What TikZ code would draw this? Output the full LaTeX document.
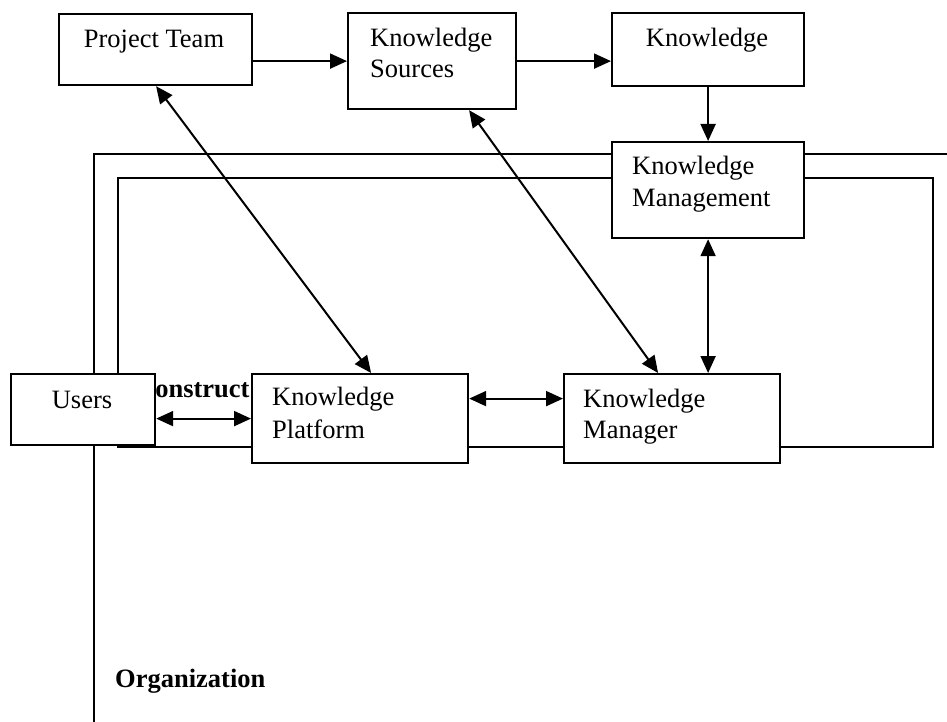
\documentclass[tikz,border=0pt]{standalone}
\usepackage{fontspec}
\setmainfont{Liberation Serif}
\usetikzlibrary{arrows.meta}
\begin{document}
\begin{tikzpicture}[x=1pt,y=-1pt,
  every node/.style={font=\fontsize{26.5}{30.5}\selectfont},
  box/.style={draw,line width=2.2pt,fill=white,inner sep=0pt,anchor=north west},
  lbl/.style={inner sep=0pt,anchor=base west},
  clbl/.style={inner sep=0pt,anchor=base},
  frame/.style={line width=2pt},
  tip/.tip={Triangle[length=17pt,width=15pt]},
  arr/.style={line width=2pt,-tip},
  biarr/.style={line width=2pt,tip-tip}]
\useasboundingbox (0,0) rectangle (947,722);

% organisation frames
\draw[frame] (947,154) -- (94,154) -- (94,722);
\draw[frame] (118,178) rectangle (933,447);

% label partly hidden behind the boxes
\node[lbl,font=\fontsize{26.5}{30.5}\selectfont\bfseries] (cons) at (136,397) {Construct};

% boxes
\node[box,minimum width=193pt,minimum height=71pt] (pt)  at (58,13)  {};
\node[box,minimum width=168pt,minimum height=96pt] (ks)  at (347,12) {};
\node[box,minimum width=192pt,minimum height=73pt] (kn)  at (611,12) {};
\node[box,minimum width=192pt,minimum height=96pt] (kmg) at (611,141) {};
\node[box,minimum width=144pt,minimum height=71pt] (users) at (10,373) {};
\node[box,minimum width=216pt,minimum height=89pt] (kp)  at (251,373) {};
\node[box,minimum width=216pt,minimum height=89pt] (kmr) at (563,373) {};

% box texts
\node[clbl] (ptt) at (154,48) {Project Team};
\node[lbl] (kst1) at (370,47) {Knowledge};
\node[lbl] (kst2) at (370,78) {Sources};
\node[clbl] (knt) at (707,47) {Knowledge};
\node[lbl] (kmgt1) at (632,175) {Knowledge};
\node[lbl] (kmgt2) at (632,206) {Management};
\node[clbl] (userst) at (82,408) {Users};
\node[lbl] (kpt1) at (272,405) {Knowledge};
\node[lbl] (kpt2) at (272,438) {Platform};
\node[lbl] (kmrt1) at (583,407) {Knowledge};
\node[lbl] (kmrt2) at (583,438) {Manager};
\node[lbl,font=\fontsize{26.5}{30.5}\selectfont\bfseries] (org) at (115,687) {Organization};

% connectors
\draw[arr] (pt.east |- ks.west) -- (ks.west);
\draw[arr] (ks.east) -- (ks.east -| kn.west);
\draw[arr] (kn.south) -- (kmg.north);
\draw[biarr] ([xshift=0.5pt]pt.south) -- ([xshift=11pt]kp.north);
\draw[biarr] ([xshift=37pt]ks.south) -- ([xshift=-14pt]kmr.north);
\draw[biarr] (kmg.south) -- (kmr.north -| kmg.south);
\draw[biarr] (users.east |- kp.west) -- (kp.west);
\draw[biarr] ([yshift=20pt]kp.east) -- ([yshift=20pt]kmr.west);
\end{tikzpicture}
\end{document}
